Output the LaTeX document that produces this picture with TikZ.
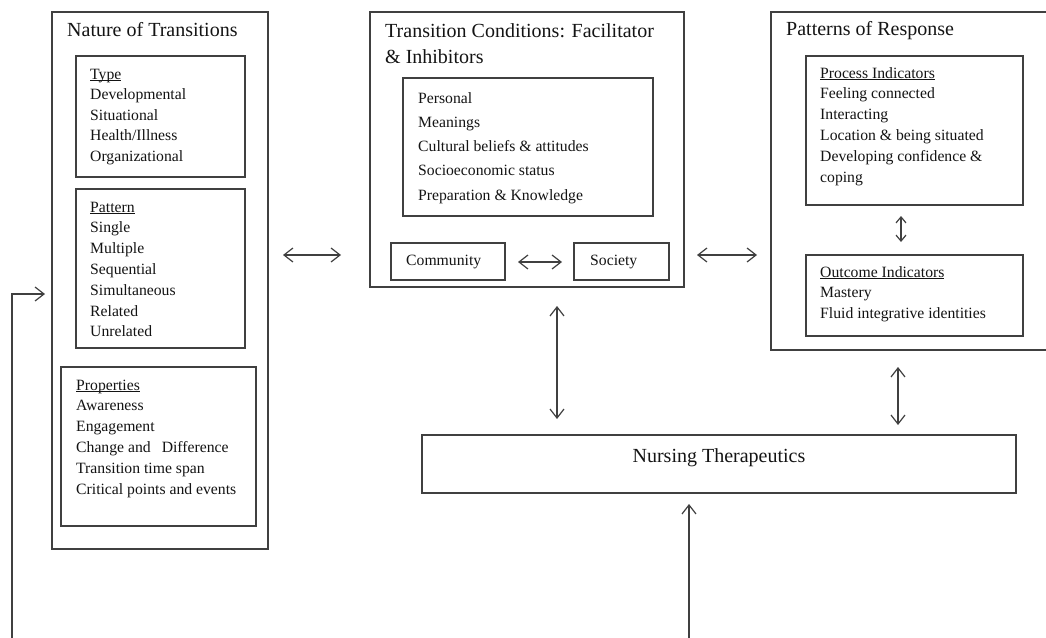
\documentclass[tikz,border=0pt]{standalone}
\usepackage{fontspec}
\setmainfont{Liberation Serif}
\usetikzlibrary{arrows.meta}
\newcommand\ulx[1]{\setbox0\hbox{#1}\rlap{\rule[-1.8pt]{\wd0}{0.8pt}}#1}
\tikzset{
  box/.style={draw=black!75, line width=1.3pt, anchor=north west, inner sep=0pt, outer sep=0pt},
  body/.style={font=\fontsize{15.7}{19}\selectfont, text=black!92, anchor=base west, inner sep=0pt},
  ttl/.style={font=\fontsize{20}{26}\selectfont, text=black!92, anchor=base west, inner sep=0pt},
  dar/.style={>={Straight Barb[length=9pt,width=14pt]}, <->, line width=1.2pt, draw=black!75},
  sar/.style={>={Straight Barb[length=9pt,width=14pt]}, ->, line width=1.2pt, draw=black!75},
  smalldar/.style={>={Straight Barb[length=6pt,width=10pt]}, <->, line width=1.2pt, draw=black!75},
}
\begin{document}
\begin{tikzpicture}[x=1pt,y=-1pt]
\useasboundingbox (0,0) rectangle (1046,637);
\clip (0,0) rectangle (1046,637);
\fill[white] (0,0) rectangle (1046,637);

% boxes
\node[box, minimum width=216pt, minimum height=537pt] (nat) at (52,12) {};
\node[box, minimum width=169pt, minimum height=121pt] (type) at (76,56) {};
\node[box, minimum width=169pt, minimum height=159pt] (pat) at (76,189) {};
\node[box, minimum width=195pt, minimum height=159pt] (prop) at (61,367) {};
\node[box, minimum width=314pt, minimum height=275pt] (cond) at (370,12) {};
\node[box, minimum width=250pt, minimum height=138pt] (pers) at (403,78) {};
\node[box, minimum width=114pt, minimum height=37pt] (comm) at (391,243) {};
\node[box, minimum width=95pt, minimum height=37pt] (soc) at (574,243) {};
\node[box, minimum width=300pt, minimum height=338pt] (resp) at (771,12) {};
\node[box, minimum width=217pt, minimum height=149pt] (proc) at (806,56) {};
\node[box, minimum width=217pt, minimum height=81pt] (outc) at (806,255) {};
\node[box, minimum width=594pt, minimum height=58pt] (nurs) at (422,435) {};

% titles
\node[ttl] (natT) at (67,36) {Nature of Transitions};
\node[ttl] (condT1) at (385,37) {Transition Conditions: Facilitator};
\node[ttl] (condT2) at (385,63) {\& Inhibitors};
\node[ttl] (respT) at (786,35) {Patterns of Response};
\node[ttl, anchor=base] (nursT) at (719,462) {Nursing Therapeutics};

% lists
\foreach \t [count=\i from 0] in {{\ulx{Type}},{Developmental},{Situational},{Health/Illness},{Organizational}}
  \node[body, name=ty\i] at (90,79+20.6*\i) {\t};
\foreach \t [count=\i from 0] in {{\ulx{Pattern}},{Single},{Multiple},{Sequential},{Simultaneous},{Related},{Unrelated}}
  \node[body, name=pa\i] at (90,212+20.8*\i) {\t};
\foreach \t [count=\i from 0] in {{\ulx{Properties}},{Awareness},{Engagement},{Change and\hspace{11pt}Difference},{Transition time span},{Critical points and events}}
  \node[body, name=pr\i] at (76,390+20.8*\i) {\t};
\foreach \t [count=\i from 0] in {{Personal},{Meanings},{Cultural beliefs \& attitudes},{Socioeconomic status},{Preparation \& Knowledge}}
  \node[body, name=pe\i] at (418,103+24.3*\i) {\t};
\foreach \t [count=\i from 0] in {{\ulx{Process Indicators}},{Feeling connected},{Interacting},{Location \& being situated},{Developing confidence \&},{coping}}
  \node[body, name=pi\i] at (820,78+20.8*\i) {\t};
\foreach \t [count=\i from 0] in {{\ulx{Outcome Indicators}},{Mastery},{Fluid integrative identities}}
  \node[body, name=oi\i] at (820,277+20.6*\i) {\t};
\node[body] (commT) at (406,265) {Community};
\node[body] (socT) at (590,265) {Society};

% connectors
\draw[dar, shorten <=15pt, shorten >=29pt] (nat.east |- 0,255) -- (cond.west |- 0,255);
\draw[dar, shorten <=13pt, shorten >=14pt] (cond.east |- 0,255) -- (resp.west |- 0,255);
\draw[dar, shorten <=13pt, shorten >=12pt] (comm.east |- 0,262) -- (soc.west |- 0,262);
\draw[dar, shorten <=19pt, shorten >=16pt] (cond.south -| 557,0) -- (nurs.north -| 557,0);
\draw[dar, shorten <=17pt, shorten >=10pt] (resp.south -| 898,0) -- (nurs.north -| 898,0);
\draw[smalldar, shorten <=11pt, shorten >=13pt] (proc.south -| 901,0) -- (outc.north -| 901,0);
\coordinate (b1) at (689,642);
\draw[sar, shorten >=11pt] (b1) -- (nurs.south -| b1);
\coordinate (f0) at (12,642);
\draw[sar, shorten >=7pt] (f0) |- (nat.west |- 0,294);
\end{tikzpicture}
\end{document}
